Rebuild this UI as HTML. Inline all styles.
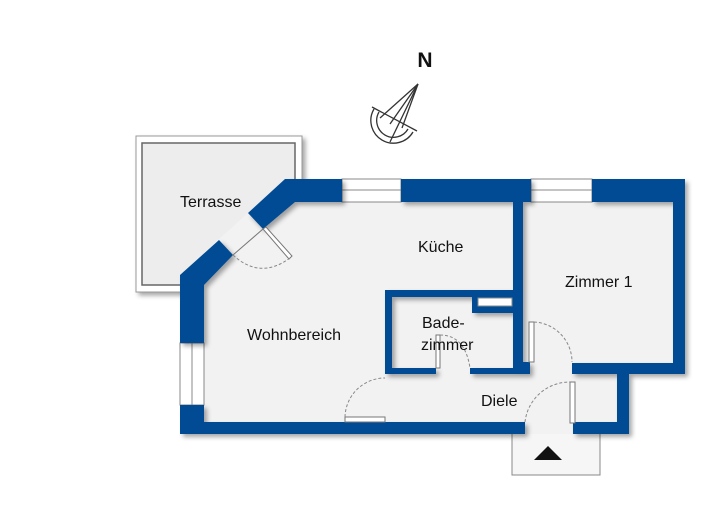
<!DOCTYPE html>
<html><head><meta charset="utf-8"><style>
html,body{margin:0;padding:0;background:#fff;}
svg{display:block;}
text{font-family:"Liberation Sans",sans-serif;fill:#111;}
</style></head><body>
<svg width="720" height="530" viewBox="0 0 720 530" xmlns="http://www.w3.org/2000/svg">
<defs>
<filter id="sh" x="-10%" y="-10%" width="130%" height="130%">
<feDropShadow dx="3" dy="3" stdDeviation="2.5" flood-color="#000" flood-opacity="0.35"/>
</filter>
</defs>
<!-- Terrasse -->
<rect x="136" y="136" width="166" height="156" fill="#fff" stroke="#999" stroke-width="1" filter="url(#sh)"/>
<rect x="142" y="143" width="153" height="142" fill="#ededed" stroke="#666" stroke-width="1.5"/>
<!-- entrance -->
<rect x="512" y="433" width="88" height="42" fill="#f6f6f6" stroke="#888" stroke-width="1"/>
<polygon points="534,460 562,460 548,446" fill="#111"/>
<!-- floor -->
<polygon points="180,275 218,240 248,213 285,179 685,179 685,374 629,374 629,434 180,434" fill="#f2f2f2"/>
<polygon points="215,245 250,212 265,230 232,258" fill="#f2f2f2"/>
<!-- windows -->
<g fill="#fff" stroke="#888" stroke-width="1">
<rect x="342" y="179" width="59" height="23"/>
<line x1="342" y1="190" x2="401" y2="190"/>
<rect x="531" y="179" width="61" height="23"/>
<line x1="531" y1="190" x2="592" y2="190"/>
<rect x="180" y="343" width="24" height="62"/>
<line x1="192" y1="343" x2="192" y2="405"/>
</g>
<!-- walls -->
<g fill="#004b93" filter="url(#sh)">
<polygon points="248,213 285,179 342,179 342,202 295,202 263,229"/>
<rect x="401" y="179" width="130" height="23"/>
<rect x="592" y="179" width="93" height="23"/>
<rect x="673" y="179" width="12" height="195"/>
<rect x="572" y="363" width="113" height="11"/>
<rect x="617" y="363" width="12" height="71"/>
<rect x="573" y="422" width="56" height="12"/>
<rect x="513" y="179" width="10" height="195"/>
<rect x="513" y="362" width="17" height="12"/>
<polygon points="180,275 219,240 233,255 204,285 204,343 180,343"/>
<rect x="180" y="405" width="24" height="29"/>
<rect x="180" y="422" width="345" height="12"/>
<rect x="385" y="290" width="138" height="7"/>
<rect x="385" y="290" width="7" height="84"/>
<rect x="385" y="368" width="51" height="6"/>
<rect x="470" y="368" width="60" height="6"/>
<path d="M472,297 h41 v16 h-41 z M478,298 v8 h34 v-8 z" fill-rule="evenodd"/>
</g>
<rect x="478" y="298" width="34" height="8" fill="#fff" stroke="#888" stroke-width="1"/>
<!-- doors -->
<g fill="#fff" stroke="#777" stroke-width="1">
<line x1="263" y1="229" x2="233" y2="255"/>
<polygon points="263,229 266,227 292,256 289,259"/>
<rect x="345" y="417" width="40" height="5"/>
<rect x="436" y="335" width="4" height="33"/>
<rect x="529" y="322" width="5" height="40"/>
<rect x="570" y="382" width="5" height="41"/>
</g>
<g fill="none" stroke="#888" stroke-width="1" stroke-dasharray="3,2">
<path d="M233,255 Q260,280 290,258"/>
<path d="M345,417 A40,40 0 0 1 385,378"/>
<path d="M440,335 Q465,335 470,368"/>
<path d="M534,322 A40,40 0 0 1 572,362"/>
<path d="M525,422 A45,45 0 0 1 570,382"/>
</g>
<!-- compass -->
<g fill="none" stroke="#333" stroke-width="1.3">
<path d="M374,109 A21,21 0 1 0 413,132"/>
<path d="M379,112 A16,16 0 1 0 408,129"/>
<line x1="372" y1="107" x2="417" y2="131"/>
<line x1="418" y1="84" x2="380" y2="118"/>
<line x1="418" y1="84" x2="390" y2="124"/>
<line x1="418" y1="84" x2="402" y2="128"/>
<line x1="418" y1="84" x2="390" y2="142"/>
</g>
<text x="425" y="67" font-size="21" text-anchor="middle" font-weight="bold">N</text>
<!-- labels -->
<g font-size="16">
<text x="180" y="207">Terrasse</text>
<text x="418" y="252">Küche</text>
<text x="565" y="287">Zimmer 1</text>
<text x="247" y="340">Wohnbereich</text>
<text x="422" y="328">Bade-</text>
<text x="421" y="350">zimmer</text>
<text x="481" y="406">Diele</text>
</g>
</svg>
</body></html>
